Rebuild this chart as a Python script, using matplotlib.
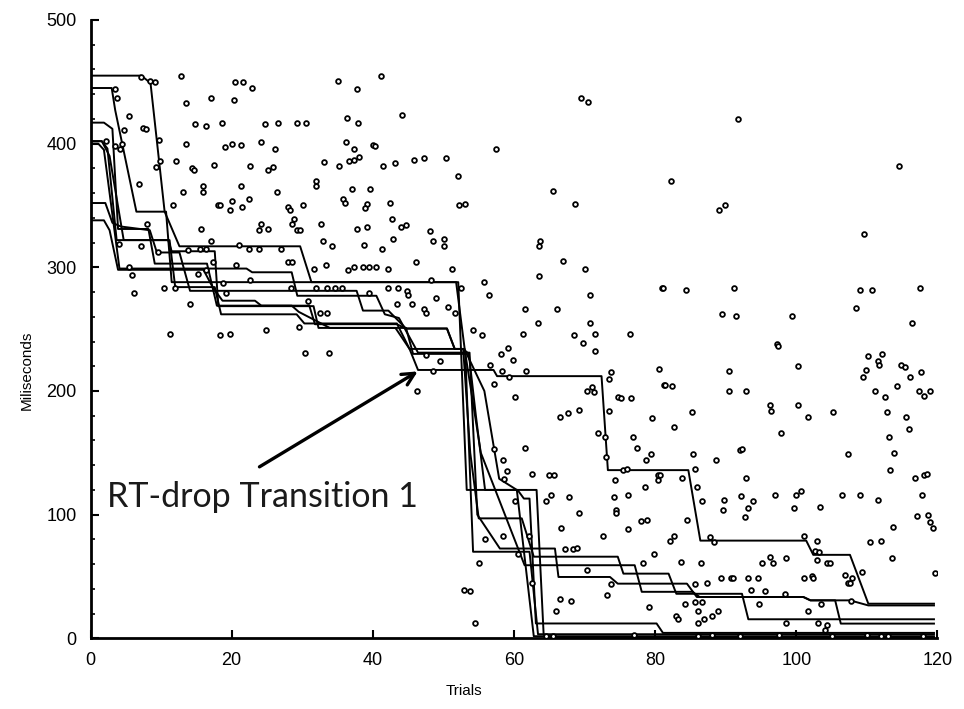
import matplotlib
matplotlib.use("Agg")
import matplotlib.pyplot as plt
from matplotlib.ticker import MultipleLocator

# individual trial RTs (trial number, milliseconds)
trial_x = [
    7.2, 8.4, 9.1, 12.8, 20.5, 21.6, 22.9, 3.4, 3.7, 13.5, 17.1, 20.3, 35.0, 37.7, 5.4, 4.7,
    7.4, 7.8, 14.8, 16.3, 18.6, 24.7, 26.6, 29.2, 30.5, 36.4, 37.9, 2.2, 3.4, 4.2, 4.4, 9.7,
    9.9, 9.3, 13.5, 19.0, 20.1, 21.3, 24.1, 26.2, 36.2, 37.4, 40.0, 12.1, 14.4, 14.6, 17.5,
    22.6, 25.1, 25.9, 33.1, 35.2, 36.6, 37.3, 38.1, 6.8, 16.0, 15.9, 21.3, 26.4, 32.0, 32.0,
    37.0, 39.6, 13.1, 11.7, 18.0, 18.3, 19.8, 20.0, 21.5, 22.4, 28.0, 28.2, 28.9, 28.6, 29.3,
    29.7, 30.1, 35.8, 36.0, 39.2, 38.9, 23.8, 24.2, 25.1, 15.6, 32.7, 39.2, 37.7, 33.0, 34.2,
    38.7, 17.1, 8.0, 4.0, 7.1, 9.5, 21.0, 15.5, 16.4, 13.8, 22.4, 23.8, 27.0, 28.0, 28.5, 5.5,
    17.3, 20.6, 33.3, 31.6, 36.5, 37.3, 38.6, 39.5, 40.5, 5.9, 15.2, 16.3, 6.1, 14.1, 19.2,
    22.6, 18.7, 28.4, 30.8, 32.5, 33.5, 12.0, 10.4, 32.0, 33.5, 34.6, 35.6, 39.4,
    41.2, 44.2, 40.3, 41.5, 43.2, 45.9, 47.2, 50.3, 57.4, 52.0, 69.5, 70.5, 65.5, 68.6, 42.5,
    52.2, 53.1, 42.7, 44.0, 44.7, 42.9, 48.1, 48.5, 50.1, 50.1, 41.3, 46.1, 51.2, 42.1, 63.7,
    63.5, 67.0, 70.1, 63.5, 55.8, 56.4, 70.7, 81.0, 61.5, 66.1, 63.4, 70.7, 48.3, 52.5, 42.2,
    43.5, 44.9, 45.0, 49.0, 45.5, 43.4, 47.3, 47.6, 50.7, 51.6,
    91.7, 82.3, 89.0, 89.9, 114.6, 109.6, 81.1, 84.3, 91.2, 89.5, 91.5, 99.4, 109.0, 110.7,
    117.5, 108.4, 116.4,
    11.2, 18.4, 19.8, 24.8, 29.5, 30.4, 33.8,
    54.2, 55.5, 61.3, 68.5, 69.8, 71.5, 71.5, 76.5, 59.2, 58.1, 59.8, 61.7, 58.3, 56.6, 57.2,
    59.3, 49.5, 47.6, 46.3, 48.5, 73.7, 73.5, 70.3, 71.1, 71.3, 80.6, 81.2, 60.1, 74.7, 75.1,
    76.6, 66.5, 67.6, 69.2, 73.5, 79.5, 71.9, 72.9, 76.9, 77.4, 79.4, 78.7, 61.5, 73.1, 57.2,
    58.5, 59.0, 58.6, 62.5, 64.9, 65.7, 74.3, 75.5, 76.0, 78.6, 80.4, 80.4, 65.2, 64.6, 67.8,
    74.1, 76.2, 74.4, 74.5, 69.2, 78.0, 78.8, 66.7, 72.6, 76.1, 79.9, 78.3, 67.2, 68.3, 68.9,
    70.3, 73.2, 73.8, 79.1, 62.1, 55.9, 58.5, 55.1, 62.6, 66.5, 68.1, 65.9, 52.9, 53.7, 54.5,
    60.6, 60.1,
    97.3, 97.4, 100.2, 90.5, 81.4, 82.4, 90.4, 92.8, 96.2, 96.4, 100.3, 101.7, 105.2, 85.2,
    82.7, 97.8, 92.0, 92.3, 85.4, 88.6, 107.3, 110.1, 111.6, 111.7, 112.2, 109.9, 109.4, 114.9,
    115.4, 116.1, 117.7, 114.2, 111.1, 112.5, 117.4, 118.1, 118.9, 112.9, 115.5, 115.9, 113.1,
    113.9, 113.3, 116.8, 118.1, 118.5, 117.8, 117.1, 118.7, 119.0, 119.3, 113.7, 110.5, 112.0,
    113.6, 109.3, 119.6, 85.7, 85.9, 86.7, 92.8, 89.8, 89.6, 92.1, 93.9, 93.1, 92.7, 97.0,
    99.9, 100.6, 99.6, 103.4, 106.5, 109.0, 111.6, 80.7, 83.8, 84.5, 82.6, 82.1, 87.7, 83.6,
    86.5, 88.3, 101.1, 102.9, 102.7, 103.2, 102.9, 104.4, 104.7, 96.3, 96.7, 95.1, 98.6, 89.3,
    90.8, 91.0, 93.2, 94.5, 87.4, 85.6, 101.1, 102.2, 102.4, 106.9, 107.9, 107.3, 107.6, 93.6,
    95.6, 98.4, 94.7, 101.7, 103.5, 107.8, 98.6, 103.1, 104.4, 104.1, 84.2, 85.6, 86.7, 86.1,
    86.9, 88.9, 88.1, 82.9, 83.3, 86.1,
    64.5, 65.5, 77.0, 86.0, 88.0, 92.0, 97.5, 105.0, 110.0, 112.0, 113.0, 118.0,
]
rt_y = [
    454, 451, 450, 455, 450, 450, 445, 444, 437, 433, 437, 435, 451, 444, 422, 411,
    413, 412, 416, 414, 417, 416, 417, 417, 417, 421, 417, 402, 398, 396, 400, 403,
    386, 381, 400, 397, 400, 399, 401, 396, 401, 396, 399, 386, 380, 379, 383,
    382, 379, 381, 385, 382, 386, 387, 389, 367, 366, 361, 366, 361, 370, 366,
    363, 363, 361, 350, 350, 350, 346, 354, 349, 355, 349, 346, 339, 335, 330,
    330, 350, 355, 352, 351, 348, 330, 335, 331, 331, 335, 333, 331, 321, 317,
    318, 321, 335, 319, 317, 312, 318, 315, 315, 314, 315, 315, 315, 304, 304, 300,
    304, 302, 302, 299, 298, 300, 300, 300, 300, 294, 295, 298, 279, 270, 279,
    290, 287, 283, 273, 263, 263, 283, 283, 283, 283, 283, 283, 279,
    455, 423, 398, 382, 384, 387, 388, 388, 396, 374, 437, 434, 362, 351, 352,
    350, 351, 339, 333, 334, 323, 329, 321, 323, 317, 315, 304, 299, 299, 321,
    317, 305, 299, 293, 288, 278, 278, 283, 266, 266, 255, 255, 290, 283, 283,
    283, 281, 278, 275, 270, 270, 266, 263, 268, 263,
    420, 370, 346, 350, 382, 327, 283, 282, 283, 262, 261, 261, 282, 282,
    283, 267, 255,
    246, 245, 246, 249, 252, 231, 231,
    249, 245, 246, 245, 239, 246, 232, 246, 235, 230, 225, 216, 216, 221, 206,
    211, 224, 229, 200, 216, 215, 210, 200, 203, 199, 218, 205, 195, 195, 194,
    194, 179, 182, 185, 184, 178, 166, 163, 163, 154, 149, 144, 154, 147, 153,
    144, 135, 129, 133, 132, 132, 128, 136, 137, 122, 128, 132, 116, 111, 114,
    114, 116, 104, 101, 101, 95, 96, 89, 83, 88, 68, 61, 72, 72, 73,
    55, 35, 44, 25, 83, 80, 83, 61, 45, 32, 30, 22, 39, 38, 12,
    68, 111,
    238, 236, 220, 216, 205, 204, 200, 200, 189, 184, 189, 179, 183, 183,
    171, 166, 152, 153, 149, 144, 149, 228, 224, 221, 230, 217, 211, 221,
    219, 211, 215, 204, 200, 195, 200, 196, 200, 183, 179, 169, 163,
    150, 136, 130, 132, 133, 116, 99, 100, 94, 89, 90, 78, 79,
    65, 54, 53, 137, 122, 111, 130, 112, 104, 115, 111, 105, 98, 116,
    116, 119, 105, 106, 116, 116, 112, 132, 130, 96, 83, 79, 82, 62,
    61, 78, 83, 79, 71, 70, 63, 61, 61, 66, 61, 61, 65, 49,
    49, 49, 49, 49, 45, 44, 49, 50, 49, 51, 49, 45, 45, 39,
    38, 36, 28, 22, 28, 30, 12, 12, 11, 7, 28, 29, 29, 22,
    16, 22, 18, 18, 16, 12,
    2, 2, 3, 2, 3, 2, 3, 2, 3, 2, 2, 2,
]

# smoothed step curves, one per learner
curve_a_x = [0, 7.2, 8.5, 10.5, 12.6, 29.7, 31.3, 52.1, 53.3, 60.5, 61.4, 62.2, 63.1, 80.2, 81.1, 119.5]
curve_a_y = [455, 455, 449, 345, 317, 317, 288, 288, 120, 120, 113, 113, 12, 12, 4.4, 4.4]
curve_b_x = [0, 3.0, 3.5, 6.5, 10.7, 11.5, 51.8, 53.1, 54.2, 62.2, 63.4, 119.5]
curve_b_y = [445, 445, 427, 345, 345, 288, 288, 230, 70, 70, 3.3, 3.3]
curve_c_x = [0, 1.9, 3.1, 3.9, 8.2, 9.1, 16.5, 17.9, 31.0, 31.8, 43.4, 44.7, 50.5, 51.6, 52.8,
             53.8, 55.0, 61.1, 62.8, 74.7, 75.5, 81.9, 83.0, 92.3, 93.2, 119.5]
curve_c_y = [417, 417, 412, 331, 331, 303, 303, 269, 269, 254, 254, 250.5, 250.5, 234, 234,
             150, 97, 97, 66, 66, 52.3, 52.3, 36, 36, 15.4, 15.4]
curve_d_x = [0, 1.6, 2.4, 3.7, 11.2, 12.0, 17.6, 18.5, 29.2, 30.3, 43.4, 45.2, 46.4, 57.1,
             57.6, 72.4, 73.3, 84.7, 86.4, 101.4, 102.4, 107.6, 110.2, 119.5]
curve_d_y = [402, 402, 396, 322, 322, 284, 284, 262, 262, 254.6, 254.6, 234, 217, 217,
             212, 212, 136, 136, 79, 79, 67.5, 67.5, 28, 28]
curve_e_x = [0, 1.1, 1.9, 4.1, 22.1, 22.9, 28.5, 29.3, 40.5, 41.7, 43.7, 46.4, 53.7, 54.8,
             58.0, 65.8, 66.3, 73.6, 74.7, 84.5, 85.9, 101.0, 102.0, 105.5, 106.3, 119.5]
curve_e_y = [400, 400, 395, 299, 299, 296, 296, 277, 277, 262, 259, 231, 231, 100,
             72.6, 72.6, 49.6, 49.6, 44.2, 44.2, 33.4, 33.4, 30.7, 30.7, 11.9, 11.9]
curve_f_x = [0, 2.1, 3.1, 4.3, 8.4, 9.4, 12.6, 14.1, 37.7, 38.6, 42.2, 44.7, 50.5, 51.6, 53.0,
             55.3, 61.5, 77.1, 78.1, 85.3, 86.3, 101.0, 102.0, 107.6, 110.2, 119.5]
curve_f_y = [352, 352, 336, 333, 330, 312, 312, 281, 281, 265, 265, 250.5, 250.5, 234, 234,
             150, 59.1, 59.1, 37.6, 37.6, 33.4, 33.4, 30.7, 30.7, 26.6, 26.6]
curve_g_x = [0, 1.9, 2.7, 3.9, 16.0, 17.3, 18.7, 23.3, 24.2, 28.5, 29.5, 33.9, 44.7, 45.7,
             53.3, 55.8, 57.9, 60.4, 62.8, 119.5]
curve_g_y = [338, 338, 330, 298, 298, 284, 273, 273, 269, 269, 264, 251, 251, 230,
             230, 200, 129, 120, 1.7, 1.7]
curve_h_x = [0, 1.6, 2.7, 4.7, 11.0, 11.5, 17.6, 18.1, 31.6, 32.3, 43.2, 45.2, 52.8, 53.6,
             54.6, 55.9, 63.2, 64.2, 65.5, 119.5]
curve_h_y = [402, 402, 390, 322, 322, 313, 313, 268.6, 268.6, 251, 251, 234, 234, 230,
             180, 120, 120, 3, 0.8, 0.8]

curves = [
    (curve_a_x, curve_a_y), (curve_b_x, curve_b_y), (curve_c_x, curve_c_y),
    (curve_d_x, curve_d_y), (curve_e_x, curve_e_y), (curve_f_x, curve_f_y),
    (curve_g_x, curve_g_y), (curve_h_x, curve_h_y),
]

plt.rcParams["font.family"] = ["Liberation Sans", "DejaVu Sans"]

fig = plt.figure(figsize=(9.64, 7.09), dpi=100)
ax = fig.add_axes([0.0939, 0.0997, 0.8786, 0.8721])

for cx, cy in curves:
    ax.plot(cx, cy, color="black", lw=1.4, zorder=2)

ax.plot(trial_x, rt_y, linestyle="none", marker="o", markersize=3.4,
        markerfacecolor="white", markeredgecolor="black", markeredgewidth=1.3, zorder=3)

ax.annotate("", xy=(46.7, 217), xytext=(23.6, 137.5),
            arrowprops=dict(arrowstyle="->", lw=2.4, color="black", mutation_scale=22))
ax.text(2.35, 114, "RT-drop Transition 1", fontsize=24.5, family=["Lato", "DejaVu Sans"],
        va="center", ha="left", color="#1a1a1a")

ax.set_xlim(0, 120)
ax.set_ylim(0, 500)
ax.xaxis.set_major_locator(MultipleLocator(20))
ax.yaxis.set_major_locator(MultipleLocator(100))
ax.yaxis.set_minor_locator(MultipleLocator(20))
ax.tick_params(which="major", direction="in", length=6, width=1.5, labelsize=13, pad=10)
ax.tick_params(which="minor", direction="in", length=3, width=1.2)

for side in ["top", "right"]:
    ax.spines[side].set_visible(False)
for side in ["left", "bottom"]:
    ax.spines[side].set_linewidth(2)

ax.set_xlabel("Trials", fontsize=11)
ax.set_ylabel("Miliseconds", fontsize=11)
ax.xaxis.set_label_coords(0.441, -0.074)
ax.yaxis.set_label_coords(-0.067, 0.434)

fig.savefig("out.png", dpi=100)
